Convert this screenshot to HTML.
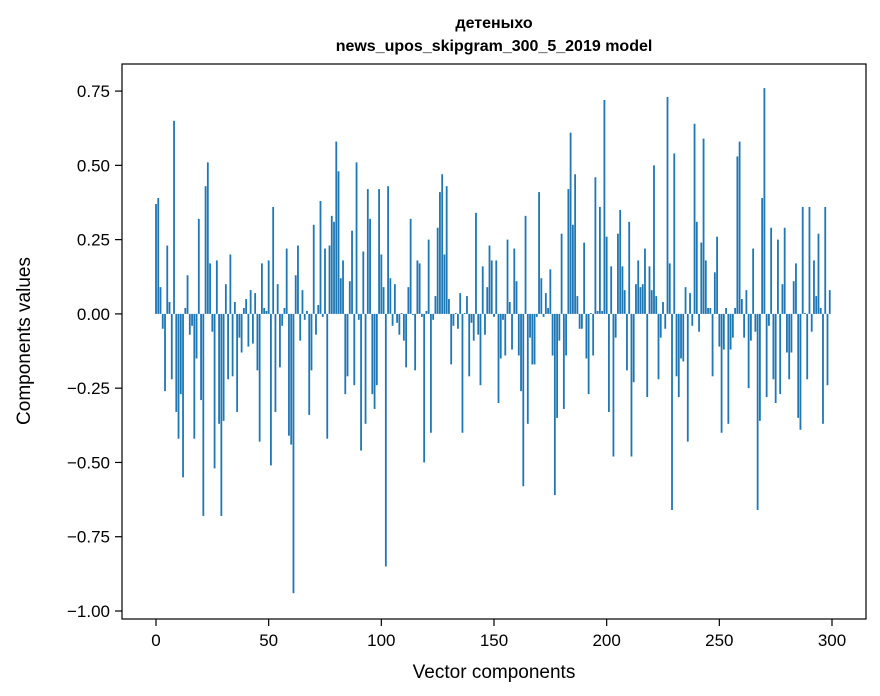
<!DOCTYPE html>
<html><head><meta charset="utf-8"><style>
body{margin:0;background:#fff;}
svg{display:block;font-family:"Liberation Sans","DejaVu Sans",sans-serif;}
</style></head><body>
<svg id="chart" width="880" height="696" viewBox="0 0 880 696">
<text x="494" y="28" text-anchor="middle" font-size="16" font-weight="bold">детеныхо</text>
<text x="494" y="51" text-anchor="middle" font-size="16" font-weight="bold">news_upos_skipgram_300_5_2019 model</text>
<g id="bars"></g>
<g id="axes"></g>
<rect x="122" y="64" width="744" height="555" fill="none" stroke="#000" stroke-width="1.2"/>
<text x="494" y="678" text-anchor="middle" font-size="19">Vector components</text>
<text transform="translate(30,341) rotate(-90)" text-anchor="middle" font-size="19">Components values</text>
</svg>
<script>
const values = [
0.37,0.39,0.09,-0.05,-0.26,0.23,0.04,-0.22,0.65,-0.33,
-0.42,-0.27,-0.55,0.02,0.13,-0.07,-0.04,-0.42,-0.15,0.32,
-0.29,-0.68,0.43,0.51,0.17,-0.06,-0.52,0.18,-0.37,-0.68,
-0.36,0.10,-0.22,0.20,-0.21,0.04,-0.33,-0.08,-0.13,0.02,
0.05,-0.11,0.08,-0.10,0.07,-0.19,-0.43,0.17,0.02,0.01,
0.18,-0.51,0.36,-0.33,0.10,-0.18,-0.04,0.02,0.22,-0.41,
-0.44,-0.94,0.13,0.23,-0.09,0.08,-0.02,0.01,-0.34,-0.19,
0.30,-0.07,0.03,0.38,-0.01,0.22,-0.42,0.23,0.33,0.31,
0.58,0.48,0.12,0.18,-0.27,-0.21,0.11,0.28,-0.24,0.51,
-0.02,-0.46,0.21,-0.37,0.42,0.32,-0.27,-0.32,-0.24,0.42,
0.20,0.09,-0.85,0.43,0.12,-0.04,0.10,-0.03,-0.07,0.003,
-0.09,-0.18,0.09,0.32,-0.003,-0.19,0.18,0.17,-0.01,-0.50,
0.01,0.25,-0.40,-0.02,0.06,0.29,0.41,0.47,0.20,0.43,
0.05,-0.17,-0.04,0.003,-0.05,0.07,-0.40,0.003,0.06,-0.21,
-0.03,-0.09,0.34,-0.07,-0.24,0.16,-0.07,0.09,0.23,0.18,
-0.01,0.18,-0.30,-0.15,-0.02,-0.14,0.25,0.04,-0.12,0.22,
0.11,-0.14,-0.26,-0.58,0.33,-0.37,-0.08,-0.17,-0.17,-0.01,
0.41,0.12,-0.01,0.07,0.02,0.15,-0.14,-0.61,-0.35,-0.09,
0.27,-0.32,-0.14,0.42,0.61,0.30,0.47,0.06,-0.05,-0.05,
0.24,-0.15,-0.27,0.003,-0.14,0.46,0.01,0.36,0.01,0.72,
0.26,-0.33,0.16,-0.48,-0.08,0.27,0.35,0.16,0.08,-0.19,
0.31,-0.48,-0.23,0.10,0.18,0.09,0.10,0.22,-0.28,0.16,
0.08,0.50,0.06,-0.22,-0.08,0.04,-0.05,0.73,0.17,-0.66,
0.54,-0.21,-0.28,-0.15,-0.16,0.09,-0.43,0.07,-0.04,0.64,
0.31,-0.06,0.24,0.59,0.18,0.02,0.02,-0.21,0.14,0.26,
-0.11,-0.40,-0.12,0.02,-0.37,-0.12,-0.08,0.02,0.53,0.58,
0.05,-0.08,0.08,-0.25,-0.09,0.22,-0.06,-0.66,-0.36,0.39,
0.76,-0.28,-0.04,0.29,-0.22,-0.30,0.25,-0.27,0.10,0.29,
-0.13,-0.22,-0.13,0.11,0.17,-0.35,-0.39,0.36,0.003,-0.22,
0.36,-0.06,0.18,0.06,0.27,0.02,-0.37,0.36,-0.24,0.08
];
const xTicks = [0,50,100,150,200,250,300];
const yTicks = [-1.00,-0.75,-0.50,-0.25,0.00,0.25,0.50,0.75];

const NS = "http://www.w3.org/2000/svg";
function xScale(v){ return 156 + v * (676/300); }
function yScale(v){ return 313.9 - v * 297.1; }
const barsG = document.getElementById('bars');
const axesG = document.getElementById('axes');
const bw = 0.8 * (676/300);
values.forEach((v,i)=>{
  const r = document.createElementNS(NS,'rect');
  const y0 = yScale(0), y1 = yScale(v);
  r.setAttribute('x', xScale(i) - bw/2);
  r.setAttribute('y', Math.min(y0,y1));
  r.setAttribute('width', bw);
  r.setAttribute('height', Math.max(Math.abs(y1-y0),0.3));
  r.setAttribute('fill', '#1f77b4');
  
  
  barsG.appendChild(r);
});
xTicks.forEach(t=>{
  const x = xScale(t);
  const l = document.createElementNS(NS,'line');
  l.setAttribute('x1',x); l.setAttribute('x2',x);
  l.setAttribute('y1',619); l.setAttribute('y2',626);
  l.setAttribute('stroke','#000'); l.setAttribute('stroke-width','1.2');
  
  
  axesG.appendChild(l);
  const tx = document.createElementNS(NS,'text');
  tx.setAttribute('x',x); tx.setAttribute('y',646);
  tx.setAttribute('text-anchor','middle'); tx.setAttribute('font-size','17');
  tx.textContent = String(t);
  
  
  axesG.appendChild(tx);
});
yTicks.forEach(t=>{
  const y = yScale(t);
  const l = document.createElementNS(NS,'line');
  l.setAttribute('x1',115); l.setAttribute('x2',122);
  l.setAttribute('y1',y); l.setAttribute('y2',y);
  l.setAttribute('stroke','#000'); l.setAttribute('stroke-width','1.2');
  
  
  axesG.appendChild(l);
  const tx = document.createElementNS(NS,'text');
  tx.setAttribute('x',110); tx.setAttribute('y',y+6);
  tx.setAttribute('text-anchor','end'); tx.setAttribute('font-size','17');
  tx.textContent = (t<0?'\u2212':'') + Math.abs(t).toFixed(2);
  
  
  axesG.appendChild(tx);
});
</script>
</body></html>
